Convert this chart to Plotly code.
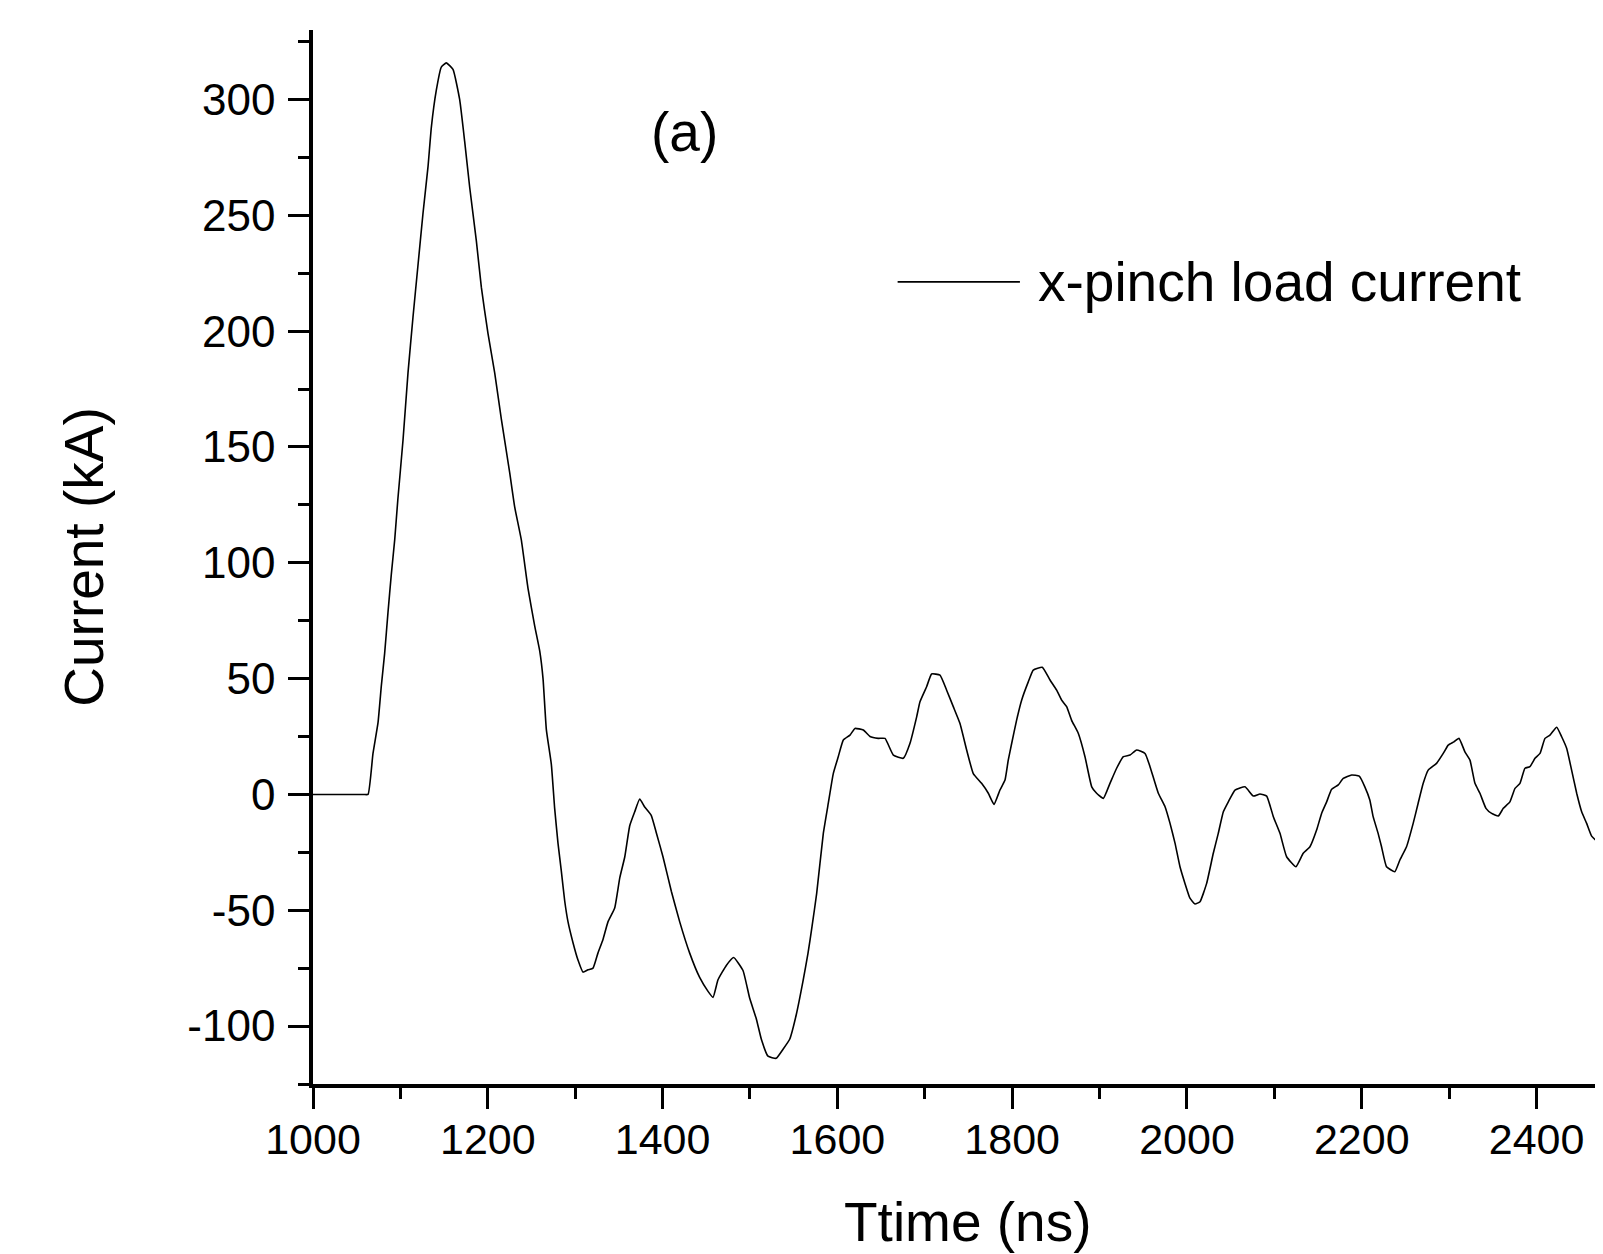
import plotly.graph_objects as go

# x-pinch load current trace
time_ns = [
    1000, 1040, 1058, 1063, 1068.6, 1074.4, 1078.2, 1082, 1085.8, 1089.6, 1093.5, 1097,
    1103, 1108.7, 1114.4, 1120, 1125.9, 1131.6, 1135.4, 1141.1, 1146.8, 1152.5,
    1160.2, 1167.8, 1173.5, 1179.3, 1186.9, 1192.6, 1200.2, 1207.9, 1215.5, 1225,
    1230.8, 1238.3, 1246, 1253.7, 1259.4, 1263.2, 1267, 1272.7, 1276.5, 1280.3,
    1284.1, 1288, 1291.8, 1297.5, 1303.2, 1308.9, 1314.6, 1320.4, 1326, 1331.8,
    1337.5, 1345.2, 1351, 1356.7, 1362.4, 1368, 1373.8, 1379.5, 1387, 1392.8,
    1400.5, 1410, 1419.6, 1431, 1442.4, 1452, 1457.7, 1463.4, 1472.9, 1481.3,
    1492, 1499.6, 1507.2, 1513, 1520.6, 1530, 1537.8, 1545.4, 1553, 1560.7,
    1566.4, 1571, 1576.3, 1583.9, 1589.6, 1595.3, 1601, 1606.8, 1614.4, 1620.1,
    1629.7, 1637.3, 1646.8, 1654.5, 1664, 1675.4, 1683, 1690.7, 1694.5, 1702.1,
    1707.8, 1717.4, 1725, 1732.6, 1740.2, 1747.9, 1755.5, 1765, 1772.7, 1779.2,
    1786, 1791.8, 1795.5, 1799.4, 1805, 1810.8, 1818.4, 1824.1, 1834.4, 1843.3,
    1850.9, 1856.6, 1862.3, 1868, 1875.6, 1883.3, 1891, 1896.6, 1904.3, 1911.9,
    1919.5, 1927.2, 1934.8, 1942.4, 1952, 1957.7, 1967.2, 1974.9, 1980.6, 1986.3,
    1992, 1997.7, 2003.4, 2009.2, 2014.9, 2022.5, 2030.1, 2035.8, 2041.6, 2047.3,
    2054.9, 2066.4, 2075.9, 2083.5, 2091.2, 2098.8, 2106.4, 2114, 2124.7, 2133,
    2140.7, 2148.3, 2154, 2159.8, 2165.5, 2173.1, 2178.8, 2188.4, 2197.1, 2203.5,
    2209.2, 2213, 2218.7, 2222.6, 2228.3, 2237.8, 2243.6, 2251.2, 2258.8, 2264.5,
    2270.3, 2276, 2285.5, 2293.2, 2298.9, 2305.4, 2311.2, 2318, 2323.8, 2329.5,
    2335.2, 2342.1, 2348.6, 2356.2, 2361.9, 2369.5, 2375.3, 2381, 2386.7, 2392.4,
    2398.2, 2403.9, 2409.6, 2415.3, 2423, 2428.7, 2434.4, 2440.1, 2445.9, 2451.6,
    2457.3, 2463, 2471.7, 2476, 2482,
]
current_kA = [
    0, 0, 0, 0, 17.6, 31, 47, 61, 78.6, 95, 110, 127,
    153, 182, 206, 228, 251, 271, 288, 304, 314, 315.8,
    313, 300, 282, 262, 239, 219, 199, 182, 162, 139,
    124, 110, 89, 72.7, 62, 50, 28, 13, -6, -21,
    -33, -46, -55, -64, -71.5, -76.7, -75.7, -75, -68.5, -62.6,
    -55, -49, -36, -27, -13.5, -7.6, -2, -5.4, -9, -16.5,
    -27, -41.8, -55, -68.5, -79, -85, -87.6, -80, -73.8, -70.4,
    -76, -87.9, -96.8, -105.7, -113, -113.9, -110, -105.7, -95, -80.5,
    -68.5, -57, -42.7, -16.8, -3.8, 9, 16.3, 23.5, 25.6, 28.5,
    27.8, 25, 24.2, 24.2, 17, 15.6, 22, 33.5, 40, 46.5,
    52, 51.5, 45, 37.9, 30.7, 19.2, 9, 4.8, 0.5, -4.3,
    1.9, 6.2, 14.8, 22, 32, 40.7, 48.6, 53.7, 54.9, 49.4,
    45, 40.7, 37.9, 32, 26.4, 16.3, 3.3, 0.5, -1.7, 4.8,
    11.3, 16.3, 17, 19.2, 17.7, 12, 0.5, -5.3, -12.5, -21,
    -31.2, -38.4, -44.8, -47.3, -46.3, -38.4, -25.4, -16.8, -7.5, -3.2,
    1.9, 3.3, -0.7, 0.2, -0.7, -9.6, -16.8, -26.9, -31.2, -25.4,
    -22.6, -15.4, -8.2, -3.2, 2.2, 4.1, 6.9, 8.4, 7.9, 3.3,
    -2.4, -9.6, -16.8, -22.6, -31.2, -33.4, -28.3, -22.6, -12.5, -3.8,
    4.8, 10.5, 13.4, 17.7, 21.3, 22.7, 24.2, 18.4, 14.8, 4.8,
    0.5, -6, -8.2, -9.3, -6, -3.2, 2.6, 4.8, 11.3, 12,
    15.6, 17.7, 24.2, 25.6, 29, 24.9, 19.9, 10.5, 0.5, -7.5,
    -12.5, -18, -20.8, -18, -14,
]

x_ticks = [1000, 1200, 1400, 1600, 1800, 2000, 2200, 2400]
y_ticks = [-100, -50, 0, 50, 100, 150, 200, 250, 300]
y_tick_labels = ["-100", "-50", "0", "50", "100", "150", "200", "250", "300"]

FONT = "Arial, Liberation Sans, sans-serif"

fig = go.Figure()
fig.add_trace(go.Scatter(
    x=time_ns, y=current_kA, mode="lines",
    line=dict(color="black", width=1.6, shape="spline", smoothing=0.4),
    name="x-pinch load current", showlegend=False,
))

axis_common = dict(
    showgrid=False, zeroline=False,
    showline=True, linecolor="black", linewidth=3.5,
    ticks="outside", ticklen=21, tickwidth=3, tickcolor="black",
)

fig.update_xaxes(
    **axis_common,
    range=[1000, 2476],
    tickvals=x_ticks,
    ticklabelstandoff=-6,
    tickfont=dict(family=FONT, size=43, color="black"),
    minor=dict(dtick=100, tick0=1000, ticks="outside", ticklen=11,
               tickwidth=3, tickcolor="black"),
)
fig.update_yaxes(
    **axis_common,
    range=[-125, 330],
    tickvals=y_ticks, ticktext=y_tick_labels,
    ticklabelstandoff=4,
    tickfont=dict(family=FONT, size=44, color="black"),
    minor=dict(dtick=25, tick0=0, ticks="outside", ticklen=11,
               tickwidth=3, tickcolor="black"),
    title=dict(text="Current (kA)", font=dict(family=FONT, size=55, color="black"),
               standoff=67),
)

# x title placed by hand: it sits a little right of the plot centre
fig.add_annotation(x=0.5078, y=-0.1306, xref="paper", yref="paper",
                   text="Ttime (ns)", showarrow=False,
                   xanchor="center", yanchor="middle",
                   font=dict(family=FONT, size=55, color="black"))

# panel label
fig.add_annotation(x=1425, y=286, xref="x", yref="y", text="(a)", showarrow=False,
                   font=dict(family=FONT, size=55, color="black"))

# hand-drawn legend entry with long line sample
fig.add_shape(type="line", xref="paper", yref="paper",
              x0=0.4532, x1=0.548, y0=0.761, y1=0.761,
              line=dict(color="black", width=1.6))
fig.add_annotation(x=0.5605, y=0.761, xref="paper", yref="paper",
                   text="x-pinch load current", showarrow=False,
                   xanchor="left", yanchor="middle",
                   font=dict(family=FONT, size=55, color="black"))

# the page body adds an 8 px offset, so margins are shifted to compensate
fig.update_layout(
    width=1603, height=1254,
    margin=dict(l=305, r=8, t=22, b=178),
    plot_bgcolor="white", paper_bgcolor="white",
)

fig.write_html("out.html")
